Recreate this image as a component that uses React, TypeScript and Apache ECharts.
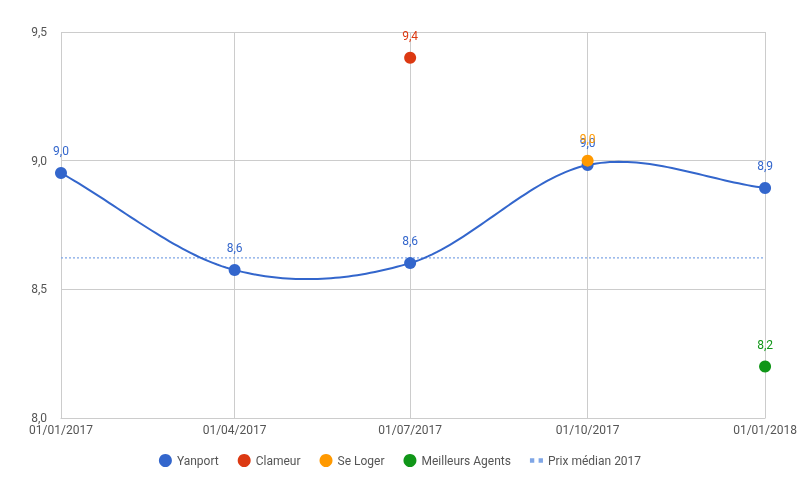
import React, { useEffect, useRef } from "react";
import * as echarts from "echarts";

const dates = ["2017-01-01", "2017-04-01", "2017-07-01", "2017-10-01", "2018-01-01"];
const yanport = [8.952, 8.575, 8.602, 8.983, 8.894];
const clameur: [string, number][] = [["2017-07-01", 9.4]];
const seLoger: [string, number][] = [["2017-10-01", 9.0]];
const meilleursAgents: [string, number][] = [["2018-01-01", 8.2]];
const medianValue = 8.622;
const yTicks = [8.0, 8.5, 9.0, 9.5];

const ts = (d: string) => {
  const [y, m, dd] = d.split("-").map(Number);
  return Date.UTC(y, m - 1, dd);
};
const fmtNum = (v: number) => v.toFixed(1).replace(".", ",");
const fmtDate = (v: number) => {
  const d = new Date(v);
  const p = (n: number) => String(n).padStart(2, "0");
  return `${p(d.getUTCDate())}/${p(d.getUTCMonth() + 1)}/${d.getUTCFullYear()}`;
};

const FONT = "Roboto, Arial, sans-serif";

export default function App() {
  const ref = useRef<HTMLDivElement>(null);
  useEffect(() => {
    if (!ref.current) return;
    const chart = echarts.init(ref.current, undefined, { renderer: "svg" });
    const xVals = dates.map(ts);
    const yanData = xVals.map((x, i) => [x, yanport[i]]);
    const lbl = (color: string) => ({
      show: true,
      position: "top" as const,
      distance: 10,
      color,
      fontSize: 12,
      fontFamily: FONT,
      formatter: (p: any) => fmtNum(p.value[1]),
    });
    const scatter = (name: string, data: [string, number][], color: string, z: number) => ({
      name,
      type: "scatter",
      data: data.map(([d, v]) => [ts(d), v]),
      symbolSize: 12,
      color,
      itemStyle: { color, opacity: 1 },
      label: lbl(color),
      z,
    });
    chart.setOption({
      animation: false,
      textStyle: { fontFamily: FONT },
      grid: { left: 61, right: 34, top: 32, bottom: 76, containLabel: false },
      xAxis: {
        type: "value",
        min: xVals[0],
        max: xVals[xVals.length - 1],
        axisLine: { show: true, lineStyle: { color: "#cccccc" } },
        axisTick: { show: false, customValues: xVals },
        axisLabel: {
          customValues: xVals,
          formatter: (v: number) => fmtDate(v),
          color: "#555",
          fontSize: 12,
          fontFamily: FONT,
          margin: 6,
          showMinLabel: true,
          showMaxLabel: true,
        },
        splitLine: { show: true, lineStyle: { color: "#cccccc", width: 1 } },
      },
      yAxis: {
        type: "value",
        min: yTicks[0],
        max: yTicks[yTicks.length - 1],
        interval: 0.5,
        axisLine: { show: false },
        axisTick: { show: false },
        axisLabel: {
          formatter: (v: number) => fmtNum(v),
          color: "#555",
          fontSize: 12,
          fontFamily: FONT,
          margin: 14,
        },
        splitLine: { lineStyle: { color: "#cccccc" } },
      },
      legend: {
        bottom: 22,
        left: "center",
        itemGap: 19,
        itemWidth: 13,
        itemHeight: 13,
        textStyle: { color: "#555", fontSize: 12, fontFamily: FONT },
        data: [
          { name: "Yanport", icon: "circle" },
          { name: "Clameur", icon: "circle" },
          { name: "Se Loger", icon: "circle" },
          { name: "Meilleurs Agents", icon: "circle" },
          {
            name: "Prix médian 2017",
            icon: "path://M0,4h4v4h-4zM8,4h4v4h-4z",
          },
        ],
      },
      series: [
        {
          name: "Prix médian 2017",
          type: "line",
          data: [
            [xVals[0], medianValue],
            [xVals[xVals.length - 1], medianValue],
          ],
          symbol: "none",
          color: "#7fa6e6",
          lineStyle: { type: [2, 2], width: 1.2, color: "#7fa6e6" },
          z: 1,
        },
        {
          name: "Yanport",
          type: "custom",
          color: "#3366cc",
          data: [[xVals[0], yanport[0]]],
          z: 2,
          silent: true,
          renderItem: (_params: any, api: any) => {
            const pts = yanData.map((d) => api.coord(d));
            const n = pts.length;
            const tan = (i: number) => {
              const a = pts[Math.max(0, i - 1)];
              const b = pts[Math.min(n - 1, i + 1)];
              const f = i === 0 || i === n - 1 ? 1 : 0.5;
              return [(b[0] - a[0]) * f, (b[1] - a[1]) * f];
            };
            const out: number[][] = [];
            for (let i = 0; i < n - 1; i++) {
              const p0 = pts[i], p1 = pts[i + 1];
              const m0 = tan(i), m1 = tan(i + 1);
              const steps = 40;
              for (let s = 0; s <= steps; s++) {
                if (i > 0 && s === 0) continue;
                const t = s / steps;
                const t2 = t * t, t3 = t2 * t;
                const h00 = 2 * t3 - 3 * t2 + 1;
                const h10 = t3 - 2 * t2 + t;
                const h01 = -2 * t3 + 3 * t2;
                const h11 = t3 - t2;
                out.push([
                  h00 * p0[0] + h10 * m0[0] + h01 * p1[0] + h11 * m1[0],
                  h00 * p0[1] + h10 * m0[1] + h01 * p1[1] + h11 * m1[1],
                ]);
              }
            }
            return {
              type: "polyline",
              shape: { points: out },
              style: { stroke: "#3366cc", lineWidth: 2, fill: "none" },
            };
          },
        },
        {
          name: "Yanport",
          type: "line",
          data: yanData,
          symbol: "circle",
          symbolSize: 12,
          color: "#3366cc",
          itemStyle: { color: "#3366cc", opacity: 1 },
          lineStyle: { width: 0, opacity: 0 },
          label: lbl("#3366cc"),
          z: 3,
        },
        scatter("Clameur", clameur, "#dc3912", 4),
        scatter("Se Loger", seLoger, "#ff9900", 5),
        scatter("Meilleurs Agents", meilleursAgents, "#109618", 4),
      ],
    });
    return () => chart.dispose();
  }, []);
  return (
    <div
      ref={ref}
      style={{ position: "fixed", left: 0, top: 0, width: 800, height: 494 }}
    />
  );
}
